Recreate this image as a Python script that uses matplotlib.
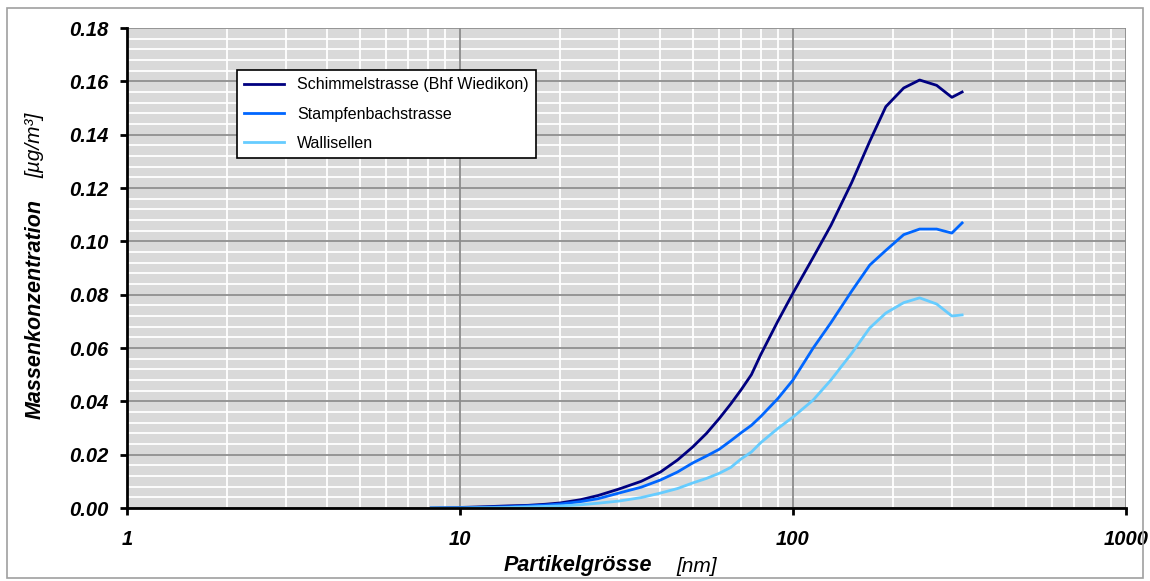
import matplotlib
matplotlib.use("Agg")
import matplotlib.pyplot as plt
from matplotlib.ticker import FixedLocator
from matplotlib.patches import Rectangle

plt.rcParams['font.family'] = ['Liberation Sans', 'DejaVu Sans']

# Particle size [nm]
size_nm = [8.2, 10, 12, 14, 16, 18, 20, 23, 26, 30, 35, 40, 45, 50, 55, 60, 65,
           70, 75, 80, 90, 100, 115, 130, 150, 170, 190, 215, 240, 270, 300, 322]

schimmelstrasse = [0.0, 0.0002, 0.0005, 0.0008, 0.0010, 0.0014, 0.0019, 0.0031,
                   0.0047, 0.0071, 0.0100, 0.0135, 0.0180, 0.0229, 0.0280, 0.0335,
                   0.0390, 0.0445, 0.0500, 0.0575, 0.0700, 0.0806, 0.0940, 0.1060,
                   0.1220, 0.1375, 0.1505, 0.1575, 0.1605, 0.1585, 0.1540, 0.1560]

stampfenbach = [0.0, 0.0001, 0.0003, 0.0005, 0.0008, 0.0011, 0.0015, 0.0024,
                0.0035, 0.0056, 0.0078, 0.0105, 0.0135, 0.0169, 0.0195, 0.0220,
                0.0252, 0.0283, 0.0310, 0.0343, 0.0410, 0.0480, 0.0600, 0.0695,
                0.0813, 0.0911, 0.0966, 0.1025, 0.1046, 0.1046, 0.1031, 0.1069]

wallisellen = [0.0, 0.0, 0.0001, 0.0002, 0.0004, 0.0006, 0.0008, 0.0012,
               0.0018, 0.0026, 0.0039, 0.0056, 0.0073, 0.0094, 0.0111, 0.0130,
               0.0152, 0.0185, 0.0210, 0.0245, 0.0298, 0.0341, 0.0405, 0.0480,
               0.0580, 0.0675, 0.0731, 0.0770, 0.0788, 0.0765, 0.0720, 0.0724]

series_names = ["Schimmelstrasse (Bhf Wiedikon)", "Stampfenbachstrasse", "Wallisellen"]
series_colors = ["#000080", "#0066FF", "#66CCFF"]

y_ticks = [0.00, 0.02, 0.04, 0.06, 0.08, 0.10, 0.12, 0.14, 0.16, 0.18]
x_ticks = [1, 10, 100, 1000]
y_minor = [i * 0.004 for i in range(46)]
x_minor = [m * 10 ** d for d in range(3) for m in range(2, 10)]

fig = plt.figure(figsize=(11.5, 5.81), dpi=100)
ax = fig.add_axes([127/1150, 1 - 508/581, (1126 - 127)/1150, (508 - 28)/581])
ax.set_facecolor("#D9D9D9")

# grid drawn explicitly for correct layering
for yv in y_minor:
    ax.axhline(yv, color="white", lw=1.3, zorder=0.5)
for xv in x_minor:
    ax.axvline(xv, color="white", lw=1.3, zorder=0.6)
for yv in y_ticks:
    ax.axhline(yv, color="#8C8C8C", lw=1.3, zorder=0.7)
for xv in x_ticks:
    ax.axvline(xv, color="#8C8C8C", lw=1.3, zorder=0.8)

for vals, name, col in zip([schimmelstrasse, stampfenbach, wallisellen], series_names, series_colors):
    ax.plot(size_nm, vals, color=col, lw=2.0, label=name, zorder=3)

ax.set_xscale("log")
ax.set_xlim(1, 1000)
ax.set_ylim(0, 0.18)

ax.xaxis.set_minor_locator(FixedLocator([]))
ax.set_xticks(x_ticks)
ax.set_xticklabels([str(t) for t in x_ticks])
ax.set_yticks(y_ticks)
ax.set_yticklabels([f"{t:.2f}" for t in y_ticks])

for s in ["top", "right"]:
    ax.spines[s].set_visible(False)
for s in ["left", "bottom"]:
    ax.spines[s].set_linewidth(2.0)
    ax.spines[s].set_color("black")
    ax.spines[s].set_zorder(4)

ax.tick_params(axis="both", which="minor", length=0)
ax.tick_params(axis="y", which="major", length=5, width=2, direction="out", pad=8)
ax.tick_params(axis="x", which="major", length=5, width=2, direction="out", pad=11)
for lab in ax.get_xticklabels() + ax.get_yticklabels():
    lab.set_fontsize(14.5)
    lab.set_fontweight("bold")
    lab.set_fontstyle("italic")

# Axis titles
fig.text(35/1150, 1 - 309/581, "Massenkonzentration", rotation=90, ha="center", va="center",
         fontsize=15.5, fontweight="bold", fontstyle="italic")
fig.text(35/1150, 1 - 145/581, "[µg/m³]", rotation=90, ha="center", va="center",
         fontsize=15, fontstyle="italic")
fig.text(578/1150, 1 - 566/581, "Partikelgrösse", ha="center", va="center",
         fontsize=15.5, fontweight="bold", fontstyle="italic")
fig.text(697/1150, 1 - 566/581, "[nm]", ha="center", va="center",
         fontsize=15, fontstyle="italic")

leg = ax.legend(loc="upper left", bbox_to_anchor=((237 - 127)/999, (508 - 70)/480),
                fontsize=11.5, frameon=True, fancybox=False, framealpha=1,
                edgecolor="black", borderpad=0.45, handlelength=2.5, labelspacing=0.9,
                handletextpad=0.8, borderaxespad=0)
leg.get_frame().set_linewidth(1.2)
leg.set_zorder(5)

fig.patches.append(Rectangle((7/1150, 1 - 578/581), 1136/1150, 570/581, transform=fig.transFigure,
                             fill=False, edgecolor="#A0A0A0", lw=1.2))

fig.savefig("out.png", dpi=100)
